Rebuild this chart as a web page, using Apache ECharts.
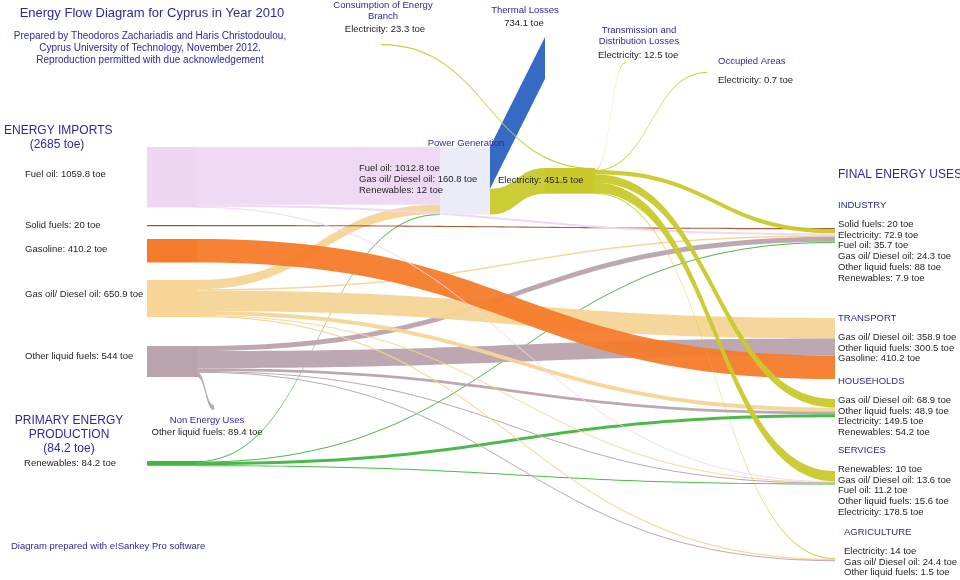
<!DOCTYPE html>
<html>
<head>
<meta charset="utf-8">
<script src="https://cdn.jsdelivr.net/npm/echarts@6/dist/echarts.min.js"></script>
<style>
html, body { margin: 0; padding: 0; background: #fff; }
#chart { width: 960px; height: 580px; }
</style>
</head>
<body>
<div id="chart"></div>
<script>
// energy carriers imported / produced (toe)
const fuels = ['Fuel oil', 'Solid fuels', 'Gasoline', 'Gas oil/ Diesel oil', 'Other liquid fuels', 'Renewables']
const fuelSupply = [1059.8, 20, 410.2, 650.9, 544, 84.2]
const importsTotal = 2685
const productionTotal = 84.2

// power generation
const powerInputs = [['Fuel oil', 1012.8], ['Gas oil/ Diesel oil', 160.8], ['Renewables', 12]]
const thermalLosses = 734.1
const electricityOut = 451.5
const electricityOther = [['Consumption of Energy Branch', 23.3], ['Transmission and Distribution Losses', 12.5], ['Occupied Areas', 0.7]]
const nonEnergyUses = [['Other liquid fuels', 89.4]]

// final energy uses
const sectors = ['INDUSTRY', 'TRANSPORT', 'HOUSEHOLDS', 'SERVICES', 'AGRICULTURE']
const industry = [['Solid fuels', 20], ['Electricity', 72.9], ['Fuel oil', 35.7], ['Gas oil/ Diesel oil', 24.3], ['Other liquid fuels', 88], ['Renewables', 7.9]]
const transport = [['Gas oil/ Diesel oil', 358.9], ['Other liquid fuels', 300.5], ['Gasoline', 410.2]]
const households = [['Gas oil/ Diesel oil', 68.9], ['Other liquid fuels', 48.9], ['Electricity', 149.5], ['Renewables', 54.2]]
const services = [['Renewables', 10], ['Gas oil/ Diesel oil', 13.6], ['Fuel oil', 11.2], ['Other liquid fuels', 15.6], ['Electricity', 178.5]]
const agriculture = [['Electricity', 14], ['Gas oil/ Diesel oil', 24.4], ['Other liquid fuels', 1.5]]
const sectorUses = [industry, transport, households, services, agriculture]

// ---- styling / layout ----
const W = 960, H = 580
const KY = 0.057   // px per toe
const fuelColors = {
    'Fuel oil': '#efd7f3', 'Solid fuels': '#a4532e', 'Gasoline': '#f47b2a',
    'Gas oil/ Diesel oil': '#f6d596', 'Other liquid fuels': '#b9a3ad', 'Renewables': '#41b53d',
    'Electricity': '#c9c92b', 'Thermal Losses': '#2b63c0'
}
// node top-left corners in px
const nodePos = {
    'Fuel oil': [147, 147], 'Solid fuels': [147, 225], 'Gasoline': [147, 239],
    'Gas oil/ Diesel oil': [147, 280], 'Other liquid fuels': [147, 346], 'Renewables': [147, 461],
    'Power Generation': [440, 147], 'Electricity': [545, 168],
    'Thermal Losses': [545, 37], 'Consumption of Energy Branch': [381, 44],
    'Transmission and Distribution Losses': [626, 62], 'Occupied Areas': [707, 72],
    'INDUSTRY': [835, 228], 'TRANSPORT': [835, 318], 'HOUSEHOLDS': [835, 399],
    'SERVICES': [835, 471], 'AGRICULTURE': [835, 558], 'Non Energy Uses': [214, 405]
}
const sourceOrder = ['Solid fuels', 'Fuel oil', 'Gas oil/ Diesel oil', 'Other liquid fuels', 'Gasoline', 'Renewables']
const sinkOrder = ['Thermal Losses'].concat(electricityOther.map(d => d[0]), sectors, ['Non Energy Uses'])

function place(name) {
    let p = nodePos[name]
    return { localX: p[0] / W, localY: p[1] / H }
}

let nodes = []
sourceOrder.forEach(name => {
    nodes.push(Object.assign({ name: name, value: fuelSupply[fuels.indexOf(name)], itemStyle: { color: fuelColors[name] } }, place(name)))
})
nodes.push(Object.assign({ name: 'Power Generation', itemStyle: { color: '#ececf8' } }, place('Power Generation')))
nodes.push(Object.assign({ name: 'Electricity', itemStyle: { color: '#c9c92b' } }, place('Electricity')))
sinkOrder.forEach(name => {
    nodes.push(Object.assign({ name: name, itemStyle: { color: '#ffffff', opacity: 0 } }, place(name)))
})

let links = []
function link(source, target, value, color, curveness) {
    let ls = { color: color || fuelColors[source] }
    if (curveness != null) ls.curveness = curveness
    links.push({ source: source, target: target, value: value, lineStyle: ls })
}
powerInputs.forEach(d => link(d[0], 'Power Generation', d[1]))
link('Power Generation', 'Thermal Losses', thermalLosses, fuelColors['Thermal Losses'], 0)
link('Power Generation', 'Electricity', electricityOut, fuelColors['Electricity'])
electricityOther.forEach(d => link('Electricity', d[0], d[1]))
sectors.forEach((s, i) => sectorUses[i].forEach(d => link(d[0], s, d[1])))
nonEnergyUses.forEach(d => link(d[0], 'Non Energy Uses', d[1]))

// node gap chosen so the sink column gives the wanted scale
let sinkTotal = thermalLosses + electricityOther.reduce((a, d) => a + d[1], 0)
    + nonEnergyUses.reduce((a, d) => a + d[1], 0)
    + sectorUses.reduce((a, arr) => a + arr.reduce((b, d) => b + d[1], 0), 0)
let gap = (H - KY * sinkTotal) / (sinkOrder.length - 1)

// ---- texts ----
const navy = '#2a2a9e'
const ink = '#1e1e1e'
const FONT = '"Liberation Sans", Arial, sans-serif'
let texts = []
function txt(x, y, text, size, color, align) {
    texts.push({
        type: 'text', x: x, y: y, z: 100, silent: true,
        style: { text: text, fill: color || ink, fontSize: size, fontFamily: FONT, align: align || 'left', verticalAlign: 'middle' }
    })
}
const fmt = (name, v) => name + ': ' + v + ' toe'

txt(152, 13, 'Energy Flow Diagram for Cyprus in Year 2010', 13, navy, 'center')
txt(150, 36, 'Prepared by Theodoros Zachariadis and Haris Christodoulou,', 10, navy, 'center')
txt(150, 48, 'Cyprus University of Technology, November 2012.', 10, navy, 'center')
txt(150, 60, 'Reproduction permitted with due acknowledgement', 10, navy, 'center')

txt(383, 5, 'Consumption of Energy', 9.5, navy, 'center')
txt(383, 16, 'Branch', 9.5, navy, 'center')
txt(385, 29, fmt('Electricity', electricityOther[0][1]), 9.5, ink, 'center')
txt(525, 10, 'Thermal Losses', 9.5, navy, 'center')
txt(524, 23, thermalLosses + ' toe', 9.5, ink, 'center')
txt(639, 30, 'Transmission and', 9.5, navy, 'center')
txt(639, 41, 'Distribution Losses', 9.5, navy, 'center')
txt(598, 55, fmt('Electricity', electricityOther[1][1]), 9.5)
txt(718, 61, 'Occupied Areas', 9.5, navy)
txt(718, 80, fmt('Electricity', electricityOther[2][1]), 9.5)

txt(4, 131, 'ENERGY IMPORTS', 12, navy)
txt(57, 145, '(' + importsTotal + ' toe)', 12, navy, 'center')
const sourceLabelY = { 'Fuel oil': 174, 'Solid fuels': 225, 'Gasoline': 249, 'Gas oil/ Diesel oil': 294, 'Other liquid fuels': 356 }
fuels.forEach((f, i) => {
    if (sourceLabelY[f] != null) txt(25, sourceLabelY[f], fmt(f, fuelSupply[i]), 9.5)
})
txt(69, 421, 'PRIMARY ENERGY', 12, navy, 'center')
txt(69, 435, 'PRODUCTION', 12, navy, 'center')
txt(69, 449, '(' + productionTotal + ' toe)', 12, navy, 'center')
txt(70, 463, fmt('Renewables', fuelSupply[5]), 9.5, ink, 'center')

txt(466, 143, 'Power Generation', 9.5, navy, 'center')
powerInputs.forEach((d, i) => txt(359, 168 + i * 11, fmt(d[0], d[1]), 9.5))
txt(498, 180, fmt('Electricity', electricityOut), 9.5)

txt(207, 420, 'Non Energy Uses', 9.5, navy, 'center')
txt(207, 432, fmt(nonEnergyUses[0][0], nonEnergyUses[0][1]), 9.5, ink, 'center')

txt(838, 175, 'FINAL ENERGY USES', 12, navy)
const sectorHeadY = [205, 318, 381, 450, 532]
const sectorX = [838, 838, 838, 838, 844]
sectors.forEach((s, i) => {
    txt(sectorX[i], sectorHeadY[i], s, 9.5, navy)
    sectorUses[i].forEach((d, j) => txt(sectorX[i], sectorHeadY[i] + 19 + j * 10.9, fmt(d[0], d[1]), 9.5))
})

txt(11, 546, 'Diagram prepared with e!Sankey Pro software', 9.5, navy)

let chart = echarts.init(document.getElementById('chart'))
chart.setOption({
    backgroundColor: '#ffffff',
    animation: false,
    graphic: texts,
    series: [{
        type: 'sankey',
        left: 0, top: 0, width: W, height: H,
        nodeWidth: 50,
        nodeGap: gap,
        layoutIterations: 0,
        draggable: false,
        label: { show: false },
        emphasis: { disabled: true },
        itemStyle: { borderWidth: 0 },
        lineStyle: { opacity: 0.95, curveness: 0.5 },
        data: nodes,
        links: links
    }]
})
</script>
</body>
</html>
